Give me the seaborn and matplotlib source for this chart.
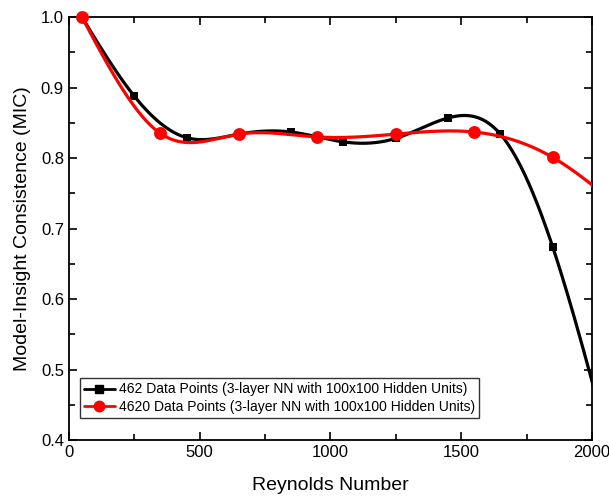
import numpy as np
import pandas as pd
import seaborn as sns
import matplotlib
matplotlib.use('Agg')
import matplotlib.pyplot as plt
from matplotlib.lines import Line2D
from matplotlib.ticker import MultipleLocator

# Data (last point of each series lies past the x-range, line is clipped)
re_small = [50, 250, 450, 650, 850, 1050, 1250, 1450, 1650, 1850, 2050]
mic_small = [1.0, 0.888, 0.829, 0.834, 0.837, 0.823, 0.828, 0.857, 0.834, 0.674, 0.415]
re_large = [50, 350, 650, 950, 1250, 1550, 1850, 2150]
mic_large = [1.0, 0.835, 0.834, 0.830, 0.834, 0.837, 0.801, 0.715]
label_small = '462 Data Points (3-layer NN with 100x100 Hidden Units)'
label_large = '4620 Data Points (3-layer NN with 100x100 Hidden Units)'


def natural_spline(x, y, n=400):
    # natural cubic spline, like Origin's spline connect
    x = np.asarray(x, float)
    y = np.asarray(y, float)
    k = len(x)
    h = np.diff(x)
    A = np.zeros((k, k))
    b = np.zeros(k)
    A[0, 0] = A[-1, -1] = 1
    for i in range(1, k - 1):
        A[i, i - 1] = h[i - 1]
        A[i, i] = 2 * (h[i - 1] + h[i])
        A[i, i + 1] = h[i]
        b[i] = 6 * ((y[i + 1] - y[i]) / h[i] - (y[i] - y[i - 1]) / h[i - 1])
    M = np.linalg.solve(A, b)
    xs = np.linspace(x[0], x[-1], n)
    idx = np.clip(np.searchsorted(x, xs) - 1, 0, k - 2)
    x0, x1 = x[idx], x[idx + 1]
    hh = x1 - x0
    t0, t1 = x1 - xs, xs - x0
    ys = (M[idx] * t0 ** 3 + M[idx + 1] * t1 ** 3) / (6 * hh) \
        + (y[idx] / hh - M[idx] * hh / 6) * t0 \
        + (y[idx + 1] / hh - M[idx + 1] * hh / 6) * t1
    return xs, ys


sns.set_style('ticks')
plt.rcParams['font.family'] = ['Liberation Sans', 'DejaVu Sans']
plt.rcParams['text.color'] = 'black'
plt.rcParams['axes.labelcolor'] = 'black'

fig = plt.figure(figsize=(6.09, 5.03), dpi=100)
ax = fig.add_axes([0.113, 0.125, 0.859, 0.841])

xs, ys = natural_spline(re_small, mic_small)
curve_small = pd.DataFrame({'Re': xs, 'MIC': ys})
xs, ys = natural_spline(re_large, mic_large)
curve_large = pd.DataFrame({'Re': xs, 'MIC': ys})
pts_small = pd.DataFrame({'Re': re_small, 'MIC': mic_small})
pts_large = pd.DataFrame({'Re': re_large, 'MIC': mic_large})

# black series first, red series drawn on top (as in the original)
sns.lineplot(data=curve_small, x='Re', y='MIC', color='black', lw=2.3, sort=False,
             ax=ax, zorder=2)
sns.scatterplot(data=pts_small, x='Re', y='MIC', marker='s', color='black', s=40,
                edgecolor='black', linewidth=0, ax=ax, zorder=2.5)
sns.lineplot(data=curve_large, x='Re', y='MIC', color='red', lw=2.3, sort=False,
             ax=ax, zorder=3)
sns.scatterplot(data=pts_large, x='Re', y='MIC', marker='o', color='red', s=86,
                edgecolor='red', linewidth=0, ax=ax, zorder=3.5)

ax.set_xlim(0, 2000)
ax.set_ylim(0.4, 1.0)
# markers not clipped at the frame, but drop the off-axis ones
for coll in ax.collections:
    coll.set_clip_on(False)
    offs = coll.get_offsets()
    coll.set_offsets(offs[offs[:, 0] <= 2000])

ax.xaxis.set_major_locator(MultipleLocator(500))
ax.xaxis.set_minor_locator(MultipleLocator(250))
ax.yaxis.set_major_locator(MultipleLocator(0.1))
ax.yaxis.set_minor_locator(MultipleLocator(0.05))
ax.yaxis.set_major_formatter(matplotlib.ticker.FormatStrFormatter('%.1f'))
ax.tick_params(which='both', direction='in', top=True, right=True, width=1.2,
               labelsize=12, colors='black')
ax.tick_params(which='major', length=6)
ax.tick_params(which='minor', length=4)
for sp in ax.spines.values():
    sp.set_linewidth(1.3)
    sp.set_color('black')

ax.set_xlabel('Reynolds Number', fontsize=14, labelpad=12)
ax.set_ylabel('Model-Insight Consistence (MIC)', fontsize=14, labelpad=7)

handles = [
    Line2D([], [], color='black', lw=2, marker='s', markersize=6),
    Line2D([], [], color='red', lw=2, marker='o', markersize=7.5),
]
leg = ax.legend(handles, [label_small, label_large], loc='lower left',
                bbox_to_anchor=(0.021, 0.052), fontsize=10, frameon=True,
                fancybox=False, edgecolor='black', handlelength=2.2,
                handletextpad=0.3, borderpad=0.3, labelspacing=0.25,
                borderaxespad=0)
leg.get_frame().set_linewidth(1.0)
leg.set_zorder(10)

fig.savefig('out.png', dpi=100)
